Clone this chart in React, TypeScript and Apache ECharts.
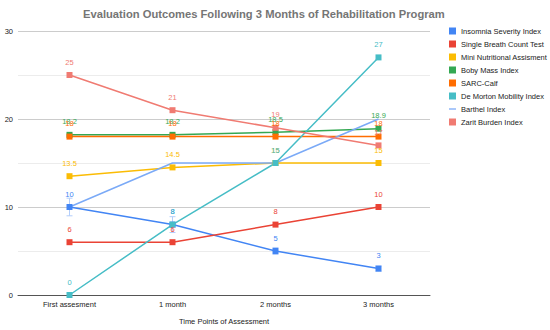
import React, { useEffect, useRef } from "react";
import * as echarts from "echarts";

const categories = ["First assesment", "1 month", "2 months", "3 months"];
const insomnia = [10, 8, 5, 3];
const insomniaErr = [1, 0.9, 0.4, 0.3];
const singleBreath = [6, 6, 8, 10];
const miniNutritional = [13.5, 14.5, 15, 15];
const bodyMass = [18.2, 18.2, 18.5, 18.9];
const sarcCalf = [18, 18, 18, 18];
const deMorton = [0, 8, 15, 27];
const barthel = [10, 15, 15, 20];
const zarit = [25, 21, 19, 17];
const yTicks = [0, 10, 20, 30];

const seriesDefs = [
  { name: "Insomnia Severity Index", data: insomnia, color: "#4285F4", marker: true },
  { name: "Single Breath Count Test", data: singleBreath, color: "#EA4335", marker: true },
  { name: "Mini Nutritional Assisment", data: miniNutritional, color: "#FBBC04", marker: true },
  { name: "Boby Mass Index", data: bodyMass, color: "#34A853", marker: true },
  { name: "SARC-Calf", data: sarcCalf, color: "#FF6D01", marker: true },
  { name: "De Morton Mobility Index", data: deMorton, color: "#46BDC6", marker: true },
  { name: "Barthel Index", data: barthel, color: "#7BAAF7", marker: false },
  { name: "Zarit Burden Index", data: zarit, color: "#F07B72", marker: true },
];

export default function App() {
  const ref = useRef<HTMLDivElement>(null);
  useEffect(() => {
    if (!ref.current) return;
    const chart = echarts.init(ref.current, null, { renderer: "svg" });
    const font = "Arial, 'Liberation Sans', sans-serif";
    const series: any[] = seriesDefs.map((s) => ({
      name: s.name,
      type: "line",
      data: s.data,
      symbol: "rect",
      symbolSize: 6,
      showSymbol: s.marker,
      color: s.color,
      lineStyle: { width: 1.5, color: s.color },
      itemStyle: { color: s.color },
      label: s.marker
        ? {
            show: true,
            position: "top",
            distance: 6,
            fontSize: 7.5,
            color: s.color,
            fontFamily: font,
          }
        : { show: false },
      labelLayout: { hideOverlap: false },
      z: 3,
    }));
    series.push({
      type: "custom",
      name: "err",
      data: insomnia.map((v, i) => [i, v - insomniaErr[i], v + insomniaErr[i]]),
      renderItem: (params: any, api: any) => {
        const x = api.value(0);
        const lo = api.coord([x, api.value(1)]);
        const hi = api.coord([x, api.value(2)]);
        const w = 3;
        const st = { stroke: "#B3CEFB", lineWidth: 1 };
        return {
          type: "group",
          children: [
            { type: "line", shape: { x1: lo[0], y1: lo[1], x2: hi[0], y2: hi[1] }, style: st },
            { type: "line", shape: { x1: lo[0] - w, y1: lo[1], x2: lo[0] + w, y2: lo[1] }, style: st },
            { type: "line", shape: { x1: hi[0] - w, y1: hi[1], x2: hi[0] + w, y2: hi[1] }, style: st },
          ],
        };
      },
      z: 2,
      silent: true,
    });

    chart.setOption({
      animation: false,
      title: {
        text: "Evaluation Outcomes Following 3 Months of Rehabilitation Program",
        left: 78,
        top: 3,
        textStyle: { fontSize: 11.2, fontWeight: "bold", color: "#757575", fontFamily: font },
      },
      legend: {
        orient: "vertical",
        left: 449,
        top: 27,
        padding: 0,
        itemWidth: 7,
        itemHeight: 7,
        itemGap: 5,
        textStyle: { fontSize: 7.5, color: "#222", fontFamily: font },
        data: seriesDefs.map((s) => ({
          name: s.name,
          icon: s.marker ? "rect" : "path://M0,0 L12,0 L12,2.2 L0,2.2 Z",
        })),
      },
      grid: { left: 18, right: 120, top: 31, bottom: 34 },
      xAxis: {
        type: "category",
        data: categories,
        boundaryGap: true,
        axisTick: { show: false },
        axisLine: { lineStyle: { color: "#555", width: 1 } },
        axisLabel: { fontSize: 7.5, color: "#222", margin: 5, fontFamily: font },
        name: "Time Points of Assessment",
        nameLocation: "middle",
        nameGap: 22,
        nameTextStyle: { fontSize: 7.5, color: "#222", fontFamily: font },
      },
      yAxis: {
        type: "value",
        min: 0,
        max: 30,
        interval: 5,
        axisLine: { show: false },
        axisTick: { show: false },
        axisLabel: {
          fontSize: 7.5,
          color: "#222",
          margin: 5,
          fontFamily: font,
          formatter: (v: number) => (yTicks.includes(v) ? String(v) : ""),
        },
        splitLine: { lineStyle: { color: ["#cccccc", "#ececec"], width: 1 } },
      },
      series,
    });
    return () => chart.dispose();
  }, []);
  return <div ref={ref} style={{ width: 550, height: 330, position: "absolute", left: 0, top: 0 }} />;
}
